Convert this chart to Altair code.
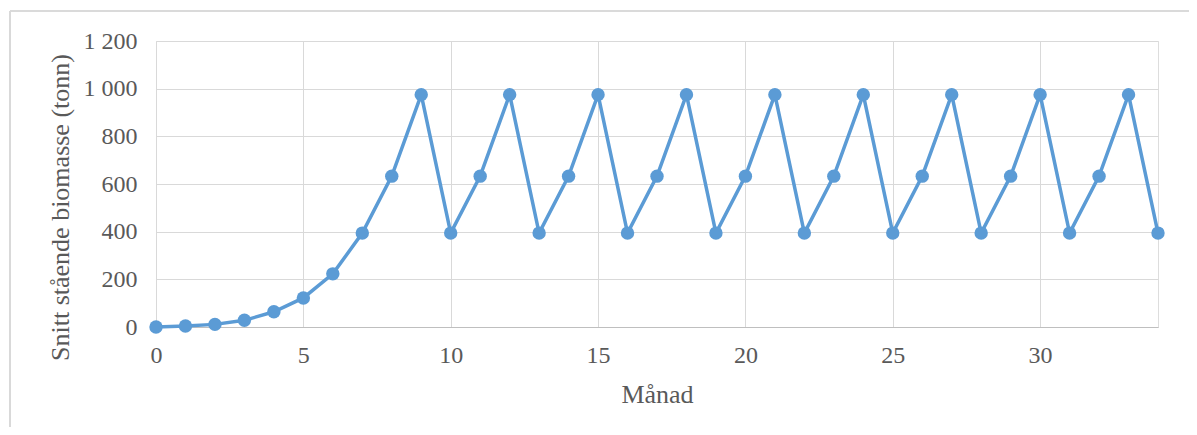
import altair as alt
import pandas as pd

months = list(range(0, 35))
biomass = [0, 4, 11, 28, 64, 122, 223, 394, 633, 975,
           394, 633, 975, 394, 633, 975, 394, 633, 975,
           394, 633, 975, 394, 633, 975, 394, 633, 975,
           394, 633, 975, 394, 633, 975, 394]
x_ticks = [0, 5, 10, 15, 20, 25, 30]
y_ticks = [0, 200, 400, 600, 800, 1000, 1200]

df = pd.DataFrame({"Månad": months, "Biomasse": biomass})

FONT = "Liberation Serif"
LINE = "#5b9bd5"
GRID = "#d9d9d9"
TEXT = "#595959"

x = alt.X(
    "Månad:Q",
    scale=alt.Scale(domain=[0, 34], nice=False, zero=False),
    axis=alt.Axis(
        values=x_ticks, title="Månad", grid=True, gridColor=GRID, gridWidth=1,
        ticks=False, domain=True, domainColor="#bfbfbf", domainWidth=1,
        labelFont=FONT, labelFontSize=24, labelColor=TEXT, labelPadding=16,
        labelFlush=False,
        titleFont=FONT, titleFontSize=26, titleColor=TEXT, titleFontWeight="normal",
        titleAlign="center", titleBaseline="alphabetic", titleX=501, titleY=75,
    ),
)
y = alt.Y(
    "Biomasse:Q",
    scale=alt.Scale(domain=[0, 1200], nice=False),
    axis=alt.Axis(
        values=y_ticks, title="Snitt stående biomasse (tonn)", grid=True,
        gridColor=GRID, gridWidth=1, ticks=False, domain=False,
        labelFont=FONT, labelFontSize=24, labelColor=TEXT, labelPadding=19,
        labelFlush=False,
        labelExpr="replace(format(datum.value, ','), ',', ' ')",
        titleFont=FONT, titleFontSize=26, titleColor=TEXT, titleFontWeight="normal",
        titleAngle=270, titleAlign="center", titleBaseline="middle",
        titleX=-96, titleY=166,
    ),
)

line = alt.Chart(df).mark_line(color=LINE, strokeWidth=3.5).encode(x=x, y=y)
pts = alt.Chart(df).mark_circle(color=LINE, opacity=1, size=180).encode(x=x, y=y)

frame_top = alt.Chart(df).mark_rule(color=GRID, strokeWidth=1.2).encode(
    x=alt.value(-146), x2=alt.value(1100), y=alt.value(-30))
frame_left = alt.Chart(df).mark_rule(color=GRID, strokeWidth=1.2).encode(
    x=alt.value(-146), y=alt.value(-30), y2=alt.value(420))

chart = alt.layer(frame_top, frame_left, line, pts).properties(
    width=1002, height=286,
    autosize=alt.AutoSizeParams(type="none"),
    padding={"left": 148, "top": 33, "right": 31, "bottom": 100},
).configure_view(stroke=None).configure(background="white")

chart.save("out.html", embed_options={"renderer": "svg", "actions": False})
